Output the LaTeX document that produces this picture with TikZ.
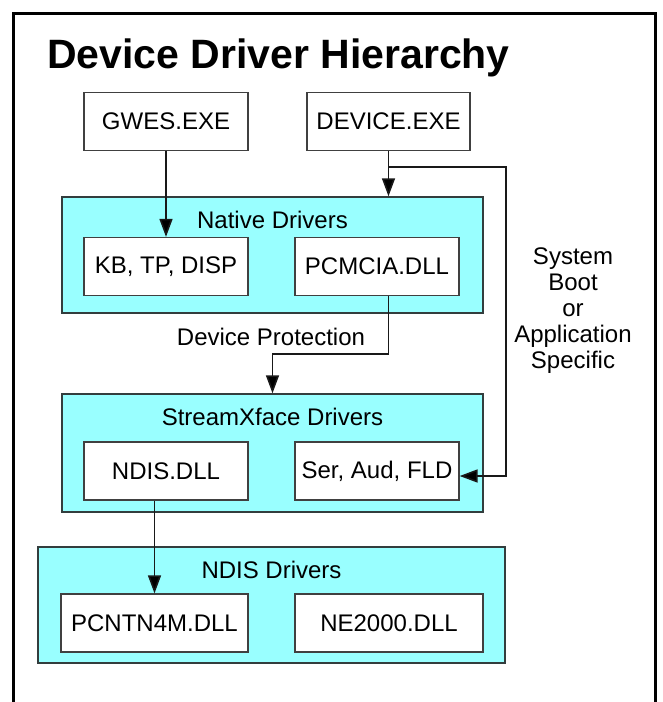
\documentclass[tikz,border=0pt]{standalone}
\usepackage{fontspec}
\setmainfont{Liberation Sans}
\usepackage{xcolor}
\usetikzlibrary{arrows.meta}

\definecolor{drvcyan}{RGB}{153,255,255}
\definecolor{drvedge}{RGB}{51,61,61}
\definecolor{modedge}{RGB}{64,64,64}

\tikzset{
  frame/.style={line width=3pt},
  group/.style={draw=drvedge,fill=drvcyan,line width=1.4pt,minimum width=#1,minimum height=116pt,inner sep=0pt},
  module/.style={draw=modedge,fill=white,line width=1.3pt,minimum height=58pt,minimum width=164pt,inner sep=0pt,font=\fontsize{24}{26}\selectfont},
  grouplabel/.style={inner sep=0pt,font=\fontsize{24}{26}\selectfont},
  conn/.style={line width=1.6pt,draw=black!90},
  tip/.style={-{Triangle[length=18pt,width=13pt,fill=black]}},
}

\begin{document}
\begin{tikzpicture}[x=1pt,y=1pt,yscale=-1,xscale=1]
    \useasboundingbox (0,0) rectangle (663,702);
    %Frame, left open at the bottom
    \draw [frame] (13,703) -- (13,13) -- (655,13) -- (655,703) ;
    % Text Node
    \node [anchor=base west,inner sep=0pt,font=\bfseries\fontsize{41}{44}\selectfont] (title) at (47,68) {Device Driver Hierarchy};

    %Top level processes
    \node [module] (gwes) at (166,121.5) {GWES.EXE};
    \node [module,minimum width=163pt] (device) at (388.5,121.5) {DEVICE.EXE};

    %Shape: Native Drivers group
    \node [group=421pt] (native) at (272.5,255) {};
    \node [grouplabel] (nativelbl) at (272.5,220) {Native Drivers};
    \node [module] (kb) at (166,266.5) {KB, TP, DISP};
    \node [module] (pcmcia) at (377,266.5) {PCMCIA.DLL};

    % Text Node
    \node [grouplabel] (protect) at (271,337) {Device Protection};

    %Shape: StreamXface Drivers group
    \node [group=421pt,minimum height=118pt] (stream) at (272.5,453) {};
    \node [grouplabel] (streamlbl) at (272.5,417) {StreamXface Drivers};
    \node [module] (ndisdll) at (166,471) {NDIS.DLL};
    \node [module] (ser) at (377,471) {Ser, Aud, FLD};

    %Shape: NDIS Drivers group
    \node [group=467pt] (ndis) at (271.5,605) {};
    \node [grouplabel] (ndislbl) at (271.5,570) {NDIS Drivers};
    \node [module,minimum width=187pt] (pcntn) at (154.5,623) {PCNTN4M.DLL};
    \node [module,minimum width=188pt] (ne2000) at (389,623) {NE2000.DLL};

    % Text Node
    \node [grouplabel,align=center] (sysboot) at (573,311) {System\\Boot\\or\\Application\\Specific};

    %Corner points of the connectors
    \coordinate (branch) at (388.5,167) ;
    \coordinate (sysbus) at (506,167) ;
    \coordinate (jog) at (388.5,354) ;

    %Straight Lines
    \draw [conn,tip] (gwes.south) -- (kb.north) ;
    \draw [conn,tip] (device.south) -- (device.south |- native.north) ;
    \draw [conn,tip] (branch) -- (sysbus) |- ([yshift=5pt]ser.east) ;
    \draw [conn,tip] (pcmcia.south -| jog) -- (jog) -| (stream.north) ;
    \draw [conn,tip] (ndisdll.south -| pcntn.north) -- (pcntn.north) ;
\end{tikzpicture}
\end{document}
